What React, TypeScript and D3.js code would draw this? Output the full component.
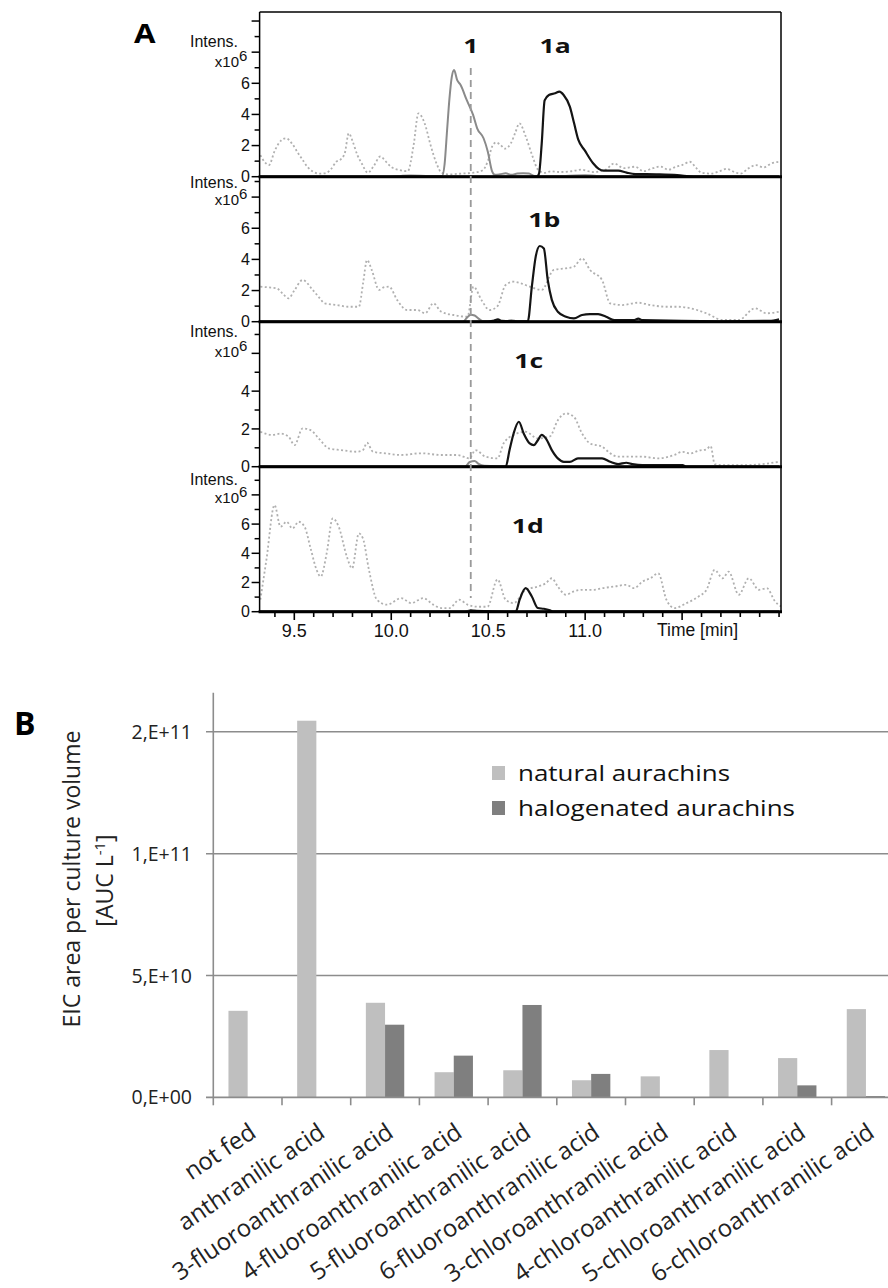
import React from 'react';
import * as d3 from 'd3';

type Pt = [number, number];

// ---------------- Panel A data (time [min], intensity x10^6) ----------------
const timeTickValues = [9.5, 10.0, 10.5, 11.0];
const timeTickLabels = ['9.5', '10.0', '10.5', '11.0'];
const timeAxisTitle = 'Time [min]';
const compoundOneTime = 10.41;

const panelNames = ['1a', '1b', '1c', '1d'];
const panelYMax = [10.58, 9.29, 7.66, 9.91];
const panelTickLabels = [[0, 2, 4, 6], [0, 2, 4, 6], [0, 2, 4], [0, 2, 4, 6]];

const p1Dotted: Pt[] = [[9.325,1.39],[9.35,0.9],[9.369,0.75],[9.40,1.7],[9.434,2.35],[9.456,2.47],[9.49,2.1],[9.52,1.5],[9.542,1.1],[9.57,0.6],[9.60,0.3],[9.629,0.2],[9.66,0.22],[9.69,0.5],[9.716,0.96],[9.738,1.1],[9.76,1.5],[9.781,2.79],[9.80,2.3],[9.825,1.4],[9.85,0.8],[9.879,0.25],[9.91,0.7],[9.944,1.3],[9.97,1.0],[9.998,0.64],[10.042,0.43],[10.085,0.35],[10.115,2.0],[10.14,4.07],[10.172,3.43],[10.205,1.93],[10.235,0.8],[10.26,0.25],[10.30,0.15],[10.36,0.2],[10.42,0.25],[10.47,0.4],[10.498,1.0],[10.52,1.93],[10.541,2.2],[10.563,2.05],[10.585,1.8],[10.617,2.15],[10.639,2.8],[10.661,3.43],[10.693,2.6],[10.726,1.4],[10.758,0.43],[10.79,0.25],[10.824,0.35],[10.87,0.3],[10.93,0.35],[10.98,0.45],[11.04,0.3],[11.106,0.45],[11.149,0.85],[11.20,0.55],[11.258,0.64],[11.30,0.35],[11.35,0.55],[11.388,0.65],[11.43,0.45],[11.47,0.65],[11.50,0.75],[11.54,0.96],[11.57,0.6],[11.60,0.25],[11.65,0.2],[11.692,0.35],[11.73,0.5],[11.76,0.35],[11.80,0.2],[11.844,0.55],[11.88,0.75],[11.92,0.6],[11.96,0.85],[12.0,0.96]];
const p1Grey: Pt[] = [[9.32,0],[10.0,0],[10.05,0.05],[10.1,0.08],[10.2,0.05],[10.262,0.05],[10.275,0.8],[10.288,3.0],[10.30,5.0],[10.312,6.4],[10.324,6.85],[10.34,6.2],[10.357,5.9],[10.389,4.93],[10.422,3.97],[10.443,3.11],[10.476,2.47],[10.498,1.61],[10.52,0.35],[10.535,0.12],[10.56,0.15],[10.59,0.22],[10.62,0.12],[10.65,0.2],[10.68,0.22],[10.71,0.2],[10.74,0.05],[10.9,0.05],[11.0,0.1],[11.06,0.05],[12.0,0]];
const p1Black: Pt[] = [[9.32,0],[10.75,0],[10.762,0.2],[10.776,2.14],[10.791,4.9],[10.813,5.25],[10.845,5.36],[10.867,5.46],[10.889,5.25],[10.921,4.5],[10.943,3.43],[10.965,2.36],[10.997,1.71],[11.041,0.86],[11.07,0.5],[11.095,0.39],[11.171,0.39],[11.214,0.26],[11.258,0.17],[11.366,0.15],[11.475,0.1],[11.56,0],[12.0,0]];

const p2Dotted: Pt[] = [[9.325,2.25],[9.37,2.2],[9.408,2.15],[9.44,1.8],[9.47,1.5],[9.50,2.0],[9.543,2.68],[9.595,2.04],[9.625,1.6],[9.657,1.18],[9.719,1.07],[9.781,0.96],[9.833,0.96],[9.855,2.5],[9.875,3.96],[9.90,3.3],[9.937,2.04],[9.96,2.2],[9.989,2.25],[10.03,1.4],[10.082,0.75],[10.134,0.75],[10.175,0.54],[10.217,1.18],[10.258,0.64],[10.32,0.43],[10.393,0.32],[10.424,2.25],[10.465,1.4],[10.507,0.75],[10.548,1.0],[10.59,2.36],[10.631,2.57],[10.673,2.45],[10.714,2.25],[10.776,2.04],[10.838,3.32],[10.901,3.43],[10.942,3.53],[10.984,4.07],[11.025,3.32],[11.087,2.68],[11.129,1.18],[11.191,1.07],[11.274,1.22],[11.336,1.07],[11.419,0.96],[11.481,0.96],[11.543,0.86],[11.626,0.54],[11.709,0.11],[11.792,0.11],[11.875,0.86],[11.937,0.54],[12.0,0.64]];
const p2Grey: Pt[] = [[9.32,0],[10.37,0],[10.39,0.25],[10.41,0.45],[10.43,0.4],[10.45,0.2],[10.47,0.05],[10.6,0.05],[10.62,0.1],[10.65,0.03],[12.0,0]];
const p2Black: Pt[] = [[9.32,0],[10.50,0],[10.53,0.08],[10.55,0.15],[10.57,0.05],[10.704,0.02],[10.725,2.25],[10.745,4.18],[10.766,4.86],[10.787,4.7],[10.807,2.68],[10.828,1.4],[10.859,0.64],[10.901,0.32],[10.942,0.21],[10.984,0.43],[11.025,0.49],[11.067,0.49],[11.108,0.32],[11.15,0.1],[11.25,0.1],[11.274,0.2],[11.295,0.1],[11.7,0.03],[11.95,0.05],[12.0,0.15]];

const p3Dotted: Pt[] = [[9.325,1.85],[9.387,1.68],[9.429,1.75],[9.47,1.6],[9.501,1.14],[9.543,2.03],[9.584,1.94],[9.626,1.5],[9.678,0.97],[9.74,0.88],[9.823,0.79],[9.854,0.88],[9.875,1.27],[9.906,0.79],[9.968,0.71],[10.051,0.62],[10.154,0.71],[10.258,0.62],[10.341,0.62],[10.403,0.44],[10.434,0.88],[10.486,0.53],[10.548,0.44],[10.579,1.23],[10.631,1.68],[10.693,1.85],[10.755,1.5],[10.818,1.6],[10.859,2.46],[10.901,2.82],[10.942,2.64],[10.984,1.76],[11.025,1.23],[11.087,1.06],[11.129,0.71],[11.17,0.53],[11.295,0.53],[11.377,0.44],[11.46,0.62],[11.502,0.79],[11.543,0.7],[11.585,0.85],[11.626,0.92],[11.647,1.1],[11.668,0.14],[11.709,0.08],[11.813,0.08],[11.916,0.14],[12.0,0.26]];
const p3Grey: Pt[] = [[9.32,0],[10.38,0],[10.405,0.25],[10.43,0.3],[10.45,0.15],[10.48,0.05],[10.55,0.03],[12.0,0]];
const p3Black: Pt[] = [[9.32,0],[10.59,0],[10.61,0.88],[10.631,1.76],[10.658,2.38],[10.683,1.76],[10.714,1.23],[10.735,1.14],[10.756,1.4],[10.776,1.68],[10.797,1.5],[10.828,0.88],[10.859,0.44],[10.89,0.26],[10.921,0.26],[10.963,0.44],[11.046,0.44],[11.087,0.44],[11.129,0.26],[11.17,0.14],[11.212,0.21],[11.243,0.14],[11.295,0.08],[11.502,0.08],[11.523,0],[12.0,0]];

const p4Dotted: Pt[] = [[9.325,0.82],[9.356,3.54],[9.398,7.3],[9.429,5.82],[9.46,6.16],[9.491,5.7],[9.522,6.16],[9.553,5.82],[9.584,4.34],[9.615,2.86],[9.636,2.4],[9.667,4.0],[9.698,6.39],[9.729,5.82],[9.771,3.77],[9.798,2.97],[9.833,5.36],[9.854,5.02],[9.885,2.86],[9.926,0.82],[9.978,0.48],[10.051,0.93],[10.103,0.59],[10.165,0.93],[10.217,0.48],[10.258,0.25],[10.30,0.25],[10.351,0.82],[10.393,0.48],[10.445,0.34],[10.496,0.34],[10.548,2.21],[10.59,0.82],[10.631,0.59],[10.693,1.5],[10.755,1.72],[10.797,1.95],[10.828,2.29],[10.859,1.72],[10.901,1.16],[10.942,1.39],[10.984,1.5],[11.046,1.5],[11.087,1.61],[11.149,1.72],[11.212,1.84],[11.253,1.61],[11.295,2.06],[11.336,2.29],[11.377,2.63],[11.419,0.82],[11.46,0.25],[11.523,0.59],[11.585,1.04],[11.626,1.5],[11.668,2.86],[11.709,2.29],[11.74,2.74],[11.792,1.16],[11.844,2.29],[11.896,1.5],[11.937,1.61],[11.979,0.71],[12.01,0.36]];
const p4Grey: Pt[] = [[9.32,0],[10.38,0],[10.41,0.12],[10.44,0.05],[10.60,0],[10.70,0.05],[10.8,0.05],[12.0,0]];
const p4Black: Pt[] = [[9.32,0],[10.40,0],[10.41,0.08],[10.43,0.05],[10.642,0],[10.662,0.82],[10.693,1.61],[10.725,1.04],[10.756,0.25],[10.787,0.2],[10.818,0.1],[10.838,0],[12.0,0]];

const dottedTraces = [p1Dotted, p2Dotted, p3Dotted, p4Dotted];
const greyTraces = [p1Grey, p2Grey, p3Grey, p4Grey];
const blackTraces = [p1Black, p2Black, p3Black, p4Black];

// ---------------- Panel B data ----------------
const categories = ['not fed', 'anthranilic acid', '3-fluoroanthranilic acid', '4-fluoroanthranilic acid', '5-fluoroanthranilic acid', '6-fluoroanthranilic acid', '3-chloroanthranilic acid', '4-chloroanthranilic acid', '5-chloroanthranilic acid', '6-chloroanthranilic acid'];
const naturalValues = [3.55e10, 2.09e11, 3.88e10, 1.03e10, 1.11e10, 0.70e10, 0.86e10, 1.94e10, 1.61e10, 3.62e10];
const halogenatedValues = [0, 0, 2.98e10, 1.71e10, 3.79e10, 0.96e10, 0, 0, 0.49e10, 0.05e10];
const seriesNames = ['natural aurachins', 'halogenated aurachins'];
const seriesColors = ['#bfbfbf', '#7f7f7f'];
const yTickValues = [0, 5e10, 1e11, 2e11];
const yTickLabels = ['0,E+00', '5,E+10', '1,E+11', '2,E+11'];

const FA = "'Liberation Sans', Arial, sans-serif";
const FB = "'Open Sans', sans-serif";

export default function App() {
  // ----- Panel A layout -----
  const xA = d3.scaleLinear().domain([9.321, 12.01]).range([259.6, 781]);
  const tops = [12, 177, 322, 467];
  const bottoms = [176.7, 321.7, 466.7, 611.7];
  const intensDy = [35, 11, 15, 18];
  const expDy = [55, 28, 35, 36];
  const nameLabelPos = [{ t: 10.845, dy: 41 }, { t: 10.789, dy: 50 }, { t: 10.709, dy: 46 }, { t: 10.704, dy: 66 }];
  const xLeft = xA.range()[0];
  const xRight = xA.range()[1];

  const minorTimeTicks = d3.range(94, 121).map((v) => v / 10);
  const majorTimeTicks = [9.5, 10.0, 10.5, 11.0, 11.5];

  // ----- Panel B layout -----
  const xB = d3.scaleBand<string>().domain(categories).range([213.3, 900.3]).paddingInner(0).paddingOuter(0);
  const xSub = d3.scaleBand<string>().domain(seriesNames).range([0, xB.bandwidth()]).paddingInner(0).paddingOuter(0.79);
  const yB = d3.scaleLinear().domain([0, 5e10, 1e11, 2e11]).range([1097.3, 975.5, 853.7, 731.7]);
  const seriesValues = [naturalValues, halogenatedValues];
  const axisColor = '#8c8c8c';

  return (
    <svg width={888} height={1288} style={{ position: 'absolute', left: 0, top: 0, background: '#fff' }}>
      <rect x={0} y={0} width={888} height={1288} fill="#fff" />
      <defs>
        {tops.map((t, i) => (
          <clipPath id={`clipA${i}`} key={i}>
            <rect x={xLeft} y={t} width={xRight - xLeft} height={bottoms[i] - t + 2} />
          </clipPath>
        ))}
      </defs>

      {/* ================= Panel A ================= */}
      <text fontFamily={FB} fontWeight={700} fontSize={26} transform="translate(134,43) scale(1.2,1)">A</text>

      {tops.map((top, i) => {
        const y = d3.scaleLinear().domain([0, panelYMax[i]]).range([bottoms[i], top]);
        const line = d3.line<Pt>().x((d) => xA(d[0])).y((d) => y(d[1])).curve(d3.curveMonotoneX);
        const unitTicks = d3.range(0, Math.floor(panelYMax[i]) + 1);
        const lp = nameLabelPos[i];
        return (
          <g key={i}>
            <g clipPath={`url(#clipA${i})`}>
              <path d={line(dottedTraces[i]) || ''} fill="none" stroke="#b0b0b0" strokeWidth={1.8} strokeDasharray="2 2.4" />
              <path d={line(greyTraces[i]) || ''} fill="none" stroke="#8a8a8a" strokeWidth={2} />
              <path d={line(blackTraces[i]) || ''} fill="none" stroke="#141414" strokeWidth={2.2} />
            </g>
            <line x1={xLeft} x2={xLeft} y1={top} y2={bottoms[i]} stroke="#000" strokeWidth={1.5} />
            <line x1={xRight} x2={xRight} y1={top} y2={bottoms[i]} stroke="#000" strokeWidth={1.5} />
            {i === 0 && <line x1={xLeft} x2={xRight} y1={top} y2={top} stroke="#000" strokeWidth={1.5} />}
            <line x1={xLeft - 1} x2={xRight + 1} y1={bottoms[i]} y2={bottoms[i]} stroke="#000" strokeWidth={3} />
            {unitTicks.map((u) => (
              <line key={u} x1={xLeft - (u % 2 === 0 ? 8 : 5)} x2={xLeft} y1={y(u)} y2={y(u)} stroke="#000" strokeWidth={1.5} />
            ))}
            {panelTickLabels[i].map((u) => (
              <text key={u} x={250} y={y(u)} dy="0.36em" textAnchor="end" fontFamily={FA} fontSize={16} fill="#111">{u}</text>
            ))}
            <text x={238} y={top + intensDy[i]} textAnchor="end" fontFamily={FA} fontSize={16} fill="#111">Intens.</text>
            <text x={239} y={top + expDy[i]} textAnchor="end" fontFamily={FA} fontSize={15} fill="#111">x10</text>
            <text x={239} y={top + expDy[i] - 6} textAnchor="start" fontFamily={FA} fontSize={15} fill="#111">6</text>
            <text
              transform={`translate(${xA(lp.t)},${top + lp.dy}) scale(1.4,1)`}
              textAnchor="middle" fontFamily={FB} fontWeight={700} fontSize={19} fill="#111"
            >{panelNames[i]}</text>
          </g>
        );
      })}

      <text transform={`translate(${xA(compoundOneTime)},53) scale(1.4,1)`} textAnchor="middle" fontFamily={FB} fontWeight={700} fontSize={19} fill="#111">1</text>
      <line x1={xA(compoundOneTime)} x2={xA(compoundOneTime)} y1={68} y2={598} stroke="#9a9a9a" strokeWidth={1.8} strokeDasharray="7 5" />

      {minorTimeTicks.map((t) => (
        <line key={t} x1={xA(t)} x2={xA(t)} y1={612} y2={majorTimeTicks.some((m) => Math.abs(m - t) < 1e-6) ? 620 : 617} stroke="#000" strokeWidth={1.6} />
      ))}
      {timeTickValues.map((t, k) => (
        <text key={t} x={xA(t)} y={636.5} textAnchor="middle" fontFamily={FA} fontSize={18} fill="#111">{timeTickLabels[k]}</text>
      ))}
      <text x={657} y={636} fontFamily={FA} fontSize={17.5} fill="#111">{timeAxisTitle}</text>

      {/* ================= Panel B ================= */}
      <text x={14} y={735} fontFamily={FB} fontWeight={700} fontSize={32} fill="#000">B</text>

      {yTickValues.filter((v) => v > 0).map((v) => (
        <line key={v} x1={206} x2={888} y1={yB(v)} y2={yB(v)} stroke={axisColor} strokeWidth={1.6} />
      ))}

      {categories.map((c, ci) => (
        <g key={c}>
          {seriesNames.map((s, si) => {
            const v = seriesValues[si][ci];
            if (v <= 0) return null;
            return (
              <rect key={s} x={(xB(c) || 0) + (xSub(s) || 0)} y={yB(v)} width={xSub.bandwidth()} height={yB(0) - yB(v)} fill={seriesColors[si]} />
            );
          })}
        </g>
      ))}

      <line x1={213.3} x2={213.3} y1={yB(2.32e11)} y2={yB(0)} stroke={axisColor} strokeWidth={1.6} />
      <line x1={206} x2={888} y1={yB(0)} y2={yB(0)} stroke={axisColor} strokeWidth={1.8} />
      {categories.map((c) => (
        <line key={c} x1={xB(c) || 0} x2={xB(c) || 0} y1={yB(0)} y2={yB(0) + 8} stroke={axisColor} strokeWidth={1.6} />
      ))}
      {yTickValues.map((v, k) => (
        <text key={v} x={192} y={yB(v)} dy="0.36em" textAnchor="end" fontFamily={FB} fontSize={19.5} fill="#222">{yTickLabels[k]}</text>
      ))}

      {categories.map((c) => {
        const cx = (xB(c) || 0) + xB.bandwidth() / 2;
        return (
          <text key={c} transform={`translate(${cx + 10},1136) rotate(-34)`} textAnchor="end" fontFamily={FB} fontSize={24} fill="#222">{c}</text>
        );
      })}

      <text transform="translate(80,879) rotate(-90)" textAnchor="middle" fontFamily={FB} fontSize={23} fill="#222">EIC area per culture volume</text>
      <text transform="translate(113,880.5) rotate(-90)" textAnchor="middle" fontFamily={FB} fontSize={23} fill="#222">
        [AUC L<tspan dy={-8} fontSize={15}>-1</tspan><tspan dy={8}>]</tspan>
      </text>

      {seriesNames.map((s, si) => (
        <g key={s}>
          <rect x={492} y={766 + si * 35} width={13} height={14} fill={seriesColors[si]} />
          <text x={518} y={781 + si * 35} fontFamily={FB} fontSize={22} fill="#111" textLength={si === 0 ? 212 : 277} lengthAdjust="spacingAndGlyphs">{s}</text>
        </g>
      ))}
    </svg>
  );
}
